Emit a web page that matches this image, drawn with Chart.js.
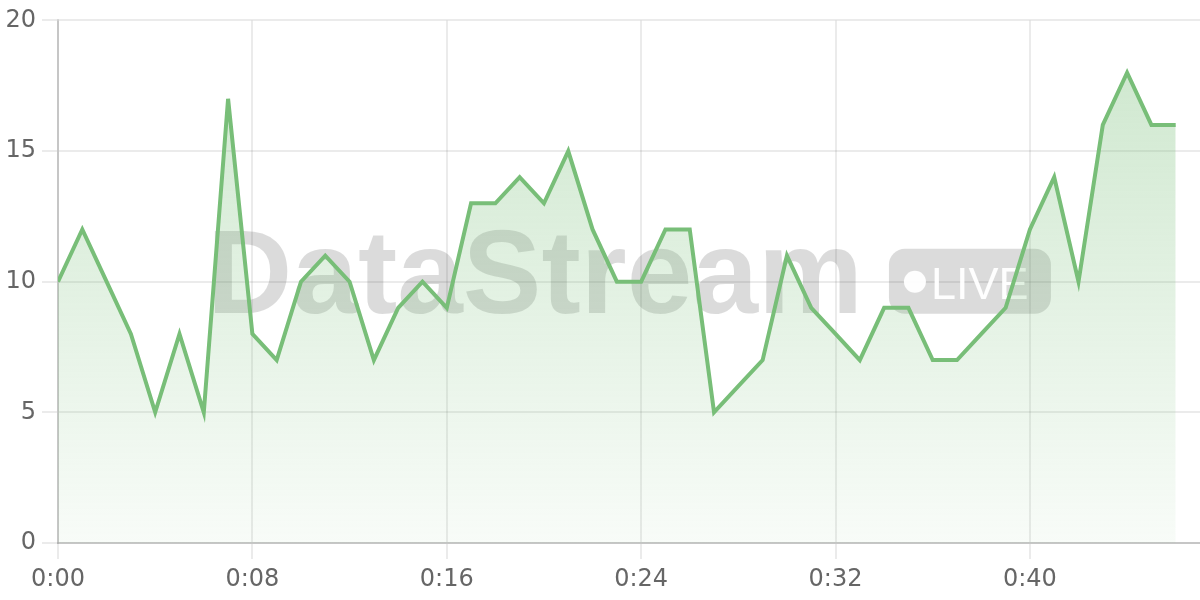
<!DOCTYPE html>
<html>
<head>
<meta charset="utf-8">
<style>
  html, body { margin: 0; padding: 0; background: #fff; }
  #wrap { width: 1200px; height: 600px; position: relative; }
</style>
<script src="https://cdn.jsdelivr.net/npm/chart.js@4/dist/chart.umd.min.js"></script>
</head>
<body>
<div id="wrap"><canvas id="streamChart"></canvas></div>
<script>
// elapsed time in minutes, one reading per minute
const minutes = [];
for (let m = 0; m <= 46; m++) minutes.push(m);
const readings = [10, 12, 10, 8, 5, 8, 5, 17, 8, 7,
                  10, 11, 10, 7, 9, 10, 9, 13, 13, 14,
                  13, 15, 12, 10, 10, 12, 12, 5, 6, 7,
                  11, 9, 8, 7, 9, 9, 7, 7, 8, 9,
                  12, 14, 10, 16, 18, 16, 16];
const yTicks = [0, 5, 10, 15, 20];

const points = minutes.map((m, i) => ({ x: m, y: readings[i] }));

const fmtTime = v => Math.floor(v / 60) + ':' + String(v % 60).padStart(2, '0');

// big translucent "DataStream  •LIVE" mark in the middle of the plot
const watermark = {
  id: 'watermark',
  beforeDatasetsDraw(chart) {
    const { ctx, chartArea: a } = chart;
    const cx = (a.left + a.right) / 2;
    const cy = (a.top + a.bottom) / 2;
    ctx.save();
    ctx.font = 'bold 118px "Liberation Sans", Arial, sans-serif';
    const tw = ctx.measureText('DataStream').width;
    const bw = 162, bh = 65, gap = 26;
    const left = cx - (tw + gap + bw) / 2;
    ctx.fillStyle = 'rgba(0,0,0,0.14)';
    ctx.textBaseline = 'alphabetic';
    ctx.textAlign = 'left';
    ctx.fillText('DataStream', left, cy + 31);

    const bx = left + tw + gap, by = cy - 33;
    ctx.beginPath();
    ctx.roundRect(bx, by, bw, bh, 16);
    ctx.fill();

    ctx.fillStyle = 'rgba(255,255,255,0.95)';
    ctx.beginPath();
    ctx.arc(bx + 26, cy, 11, 0, Math.PI * 2);
    ctx.fill();
    ctx.font = '45px "Liberation Sans", Arial, sans-serif';
    ctx.fillText('LIVE', bx + 42, cy + 17);
    ctx.restore();
  }
};

const tickFont = { family: '"DejaVu Sans", sans-serif', size: 24 };

new Chart(document.getElementById('streamChart'), {
  type: 'line',
  data: {
    datasets: [{
      data: points,
      borderColor: 'rgb(120,190,120)',
      borderWidth: 4,
      pointRadius: 0,
      tension: 0,
      fill: 'origin',
      backgroundColor: (c) => {
        const a = c.chart.chartArea;
        if (!a) return 'rgba(120,190,120,0.2)';
        const g = c.chart.ctx.createLinearGradient(0, a.top, 0, a.bottom);
        g.addColorStop(0, 'rgba(120,190,120,0.38)');
        g.addColorStop(1, 'rgba(120,190,120,0.05)');
        return g;
      }
    }]
  },
  options: {
    responsive: true,
    maintainAspectRatio: false,
    animation: false,
    layout: { padding: { top: 9, left: 0, right: 0, bottom: 0 } },
    plugins: { legend: { display: false }, tooltip: { enabled: false } },
    scales: {
      x: {
        type: 'linear',
        min: 0, max: 47,
        afterFit: s => { s.height = 57; },
        ticks: {
          stepSize: 8, includeBounds: false, padding: 6,
          color: '#666', font: tickFont,
          callback: v => fmtTime(v)
        },
        grid: { color: 'rgba(0,0,0,0.08)', tickLength: 16, lineWidth: 2 },
        border: { color: 'rgba(0,0,0,0.16)', width: 2 }
      },
      y: {
        min: yTicks[0], max: yTicks[yTicks.length - 1],
        afterBuildTicks: s => { s.ticks = yTicks.map(v => ({ value: v })); },
        afterFit: s => { s.width = 58; },
        ticks: { padding: 6, color: '#666', font: tickFont },
        grid: { color: 'rgba(0,0,0,0.08)', tickLength: 16, lineWidth: 2 },
        border: { color: 'rgba(0,0,0,0.16)', width: 2 }
      }
    }
  },
  plugins: [watermark]
});
</script>
</body>
</html>
